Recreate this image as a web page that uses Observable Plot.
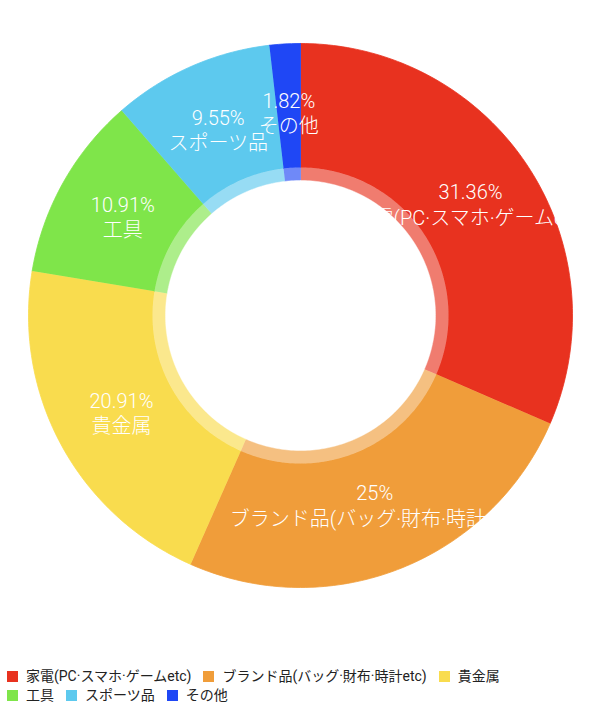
<!DOCTYPE html>
<html><head><meta charset="utf-8">
<script src="https://cdn.jsdelivr.net/npm/d3@7"></script>
<script src="https://cdn.jsdelivr.net/npm/@observablehq/plot@0.6"></script>
<style>
body{margin:0;background:#fff;font-family:Roboto,"Noto Sans CJK JP",sans-serif;}
#chart svg{display:block;}
#legend{margin-top:47px;padding-left:7px;width:530px;display:flex;flex-wrap:wrap;font-size:14px;line-height:19px;color:#222;}
#legend .item{display:flex;align-items:center;margin-right:12px;white-space:nowrap;}
#legend .sw{width:11px;height:11px;margin-right:8px;}
</style></head><body>
<div id="chart"></div>
<div id="legend"></div>
<script>
// ---- data ----
const categories = ["家電(PC·スマホ·ゲームetc)", "ブランド品(バッグ·財布·時計etc)", "貴金属", "工具", "スポーツ品", "その他"];
const values = [31.36, 25, 20.91, 10.91, 9.55, 1.82];
const colors = ["#E8321F", "#F09D3A", "#F9DC4E", "#7FE54A", "#5DC9EE", "#1F47F5"];

// ---- layout constants (in outer-radius units) ----
const W = 600, H = 620, CX = 300, CY = 315, RPX = 272;
const R_OUT = 1, R_RING = 148 / 272, R_HOLE = 135 / 272, R_LABEL = (R_OUT + R_HOLE) / 2;

const rows = categories.map((c, i) => ({cat: c, value: values[i]}));
const arcs = d3.pie().sort(null).value(d => d.value)(rows);

function band(key, cat, a0, a1, r0, r1) {
  const n = Math.max(2, Math.ceil((a1 - a0) * 180 / Math.PI));
  const pts = [];
  for (let i = 0; i <= n; i++) { const a = a0 + (a1 - a0) * i / n; pts.push({key, cat, x: r1 * Math.sin(a), y: r1 * Math.cos(a)}); }
  for (let i = n; i >= 0; i--) { const a = a0 + (a1 - a0) * i / n; pts.push({key, cat, x: r0 * Math.sin(a), y: r0 * Math.cos(a)}); }
  return pts;
}

const slicePts = arcs.flatMap(a => band("s" + a.data.cat, a.data.cat, a.startAngle, a.endAngle, R_RING, R_OUT));
const ringPts = arcs.flatMap(a => band("r" + a.data.cat, a.data.cat, a.startAngle, a.endAngle, R_HOLE, R_RING));
const ringOverlay = band("ov", "ov", 0, 2 * Math.PI, R_HOLE, R_RING);
const holePts = band("hole", "hole", 0, 2 * Math.PI, 0, R_HOLE);

const labels = arcs.map(a => {
  const m = (a.startAngle + a.endAngle) / 2;
  return {x: R_LABEL * Math.sin(m), y: R_LABEL * Math.cos(m), text: a.data.value + "%\n" + a.data.cat};
});

const chart = Plot.plot({
  width: W, height: H, margin: 0,
  style: {background: "#fff"},
  x: {domain: [-CX / RPX, (W - CX) / RPX], axis: null},
  y: {domain: [-(H - CY) / RPX, CY / RPX], axis: null},
  color: {domain: categories, range: colors},
  marks: [
    Plot.line(slicePts, {x: "x", y: "y", z: "key", fill: "cat", stroke: "cat", strokeWidth: 0.8, curve: "linear"}),
    Plot.line(ringPts, {x: "x", y: "y", z: "key", fill: "cat", stroke: "cat", strokeWidth: 0.8, curve: "linear"}),
    Plot.line(ringOverlay, {x: "x", y: "y", z: "key", fill: "white", fillOpacity: 0.36, stroke: "none"}),
    Plot.text(labels, {x: "x", y: "y", text: "text", fill: "white", fontSize: 20, lineHeight: 1.28, fontWeight: 300, fontFamily: "Roboto, 'Noto Sans CJK JP'"}),
    Plot.line(holePts, {x: "x", y: "y", z: "key", fill: "white", stroke: "white", strokeWidth: 0.5})
  ]
});
document.getElementById("chart").appendChild(chart);

const lg = document.getElementById("legend");
categories.forEach((c, i) => {
  const it = document.createElement("div"); it.className = "item";
  const sw = document.createElement("span"); sw.className = "sw"; sw.style.background = colors[i];
  const tx = document.createElement("span"); tx.textContent = c;
  it.appendChild(sw); it.appendChild(tx); lg.appendChild(it);
});
</script>
</body></html>
